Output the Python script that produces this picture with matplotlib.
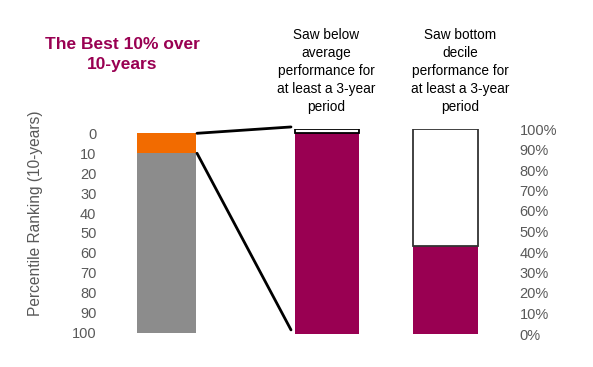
import matplotlib
matplotlib.use("Agg")
import matplotlib.pyplot as plt
from matplotlib.patches import ConnectionPatch

plt.rcParams['font.family'] = ['Liberation Sans', 'DejaVu Sans']

# ---- data ----
rank_bands = [10, 90]            # top 10% (orange), rest (grey) in percentile ranking
rank_colors = ['#F26B00', '#8C8C8C']
below_avg = [98, 2]              # saw below-average 3-yr period: yes / no (%)
bottom_decile = [43, 57]         # saw bottom-decile 3-yr period: yes / no (%)
left_ticks = [0, 10, 20, 30, 40, 50, 60, 70, 80, 90, 100]
right_ticks = [0, 10, 20, 30, 40, 50, 60, 70, 80, 90, 100]
title = "The Best 10% over\n10-years"
header1 = "Saw below\naverage\nperformance for\nat least a 3-year\nperiod"
header2 = "Saw bottom\ndecile\nperformance for\nat least a 3-year\nperiod"
ylabel = "Percentile Ranking (10-years)"

MAROON = '#990052'
GREY_TXT = '#595959'

W, H = 593, 367
fig = plt.figure(figsize=(W / 100, H / 100), dpi=100)

# layout (pixels)
xl, xr = 102, 514
def box(top, bottom):
    return [xl / W, (H - bottom) / H, (xr - xl) / W, (bottom - top) / H]

ax_l = fig.add_axes(box(133.3, 332.7))
ax_r = fig.add_axes(box(129, 334))
for a in (ax_l, ax_r):
    a.set_xlim(xl, xr)
    a.patch.set_visible(False)
    for s in a.spines.values():
        s.set_visible(False)
    a.set_xticks([])
    a.tick_params(axis='y', length=0, labelsize=10.5, labelcolor=GREY_TXT)

# left: percentile ranking bar (inverted axis)
ax_l.set_ylim(100, 0)
ax_l.set_yticks(left_ticks)
ax_l.set_yticklabels([str(t) for t in left_ticks])
ax_l.tick_params(axis='y', pad=4)
x1, w1 = 166.5, 59
bottom = 0
for v, c in zip(rank_bands, rank_colors):
    ax_l.bar(x1, v, bottom=bottom, width=w1, color=c, linewidth=0)
    bottom += v

# right: percentage bars
ax_r.set_ylim(0, 100)
ax_r.yaxis.tick_right()
ax_r.set_yticks(right_ticks)
ax_r.set_yticklabels([f"{t}%" for t in right_ticks])
ax_r.tick_params(axis='y', pad=4)

x2, w2 = 327, 64
x3, w3 = 445.5, 65
ax_r.bar(x2, below_avg[0], width=w2, color=MAROON, linewidth=0)
ax_r.bar(x2, below_avg[1], bottom=below_avg[0], width=w2, color='white',
         edgecolor='black', linewidth=1.3)
ax_r.bar(x3, bottom_decile[0], width=w3, color=MAROON, linewidth=0)
ax_r.bar(x3, bottom_decile[1], bottom=bottom_decile[0], width=w3, color='white',
         edgecolor='#333333', linewidth=1.3)

# connector lines
top_total = sum(below_avg)
for ya, yb in [(0, top_total + 1), (rank_bands[0], 2)]:
    con = ConnectionPatch(xyA=(x1 + w1 / 2 + 1, ya), coordsA=ax_l.transData,
                          xyB=(x2 - w2 / 2 - 4, yb), coordsB=ax_r.transData,
                          color='black', linewidth=2)
    fig.add_artist(con)

# texts
fig.text(122 / W, 1 - 54.5 / H, title, ha='center', va='center',
         fontsize=12.5, fontweight='bold', color=MAROON, linespacing=1.35)
fig.text(326 / W, 1 - 71 / H, header1, ha='center', va='center',
         fontsize=9.8, color='black', linespacing=1.38)
fig.text(460 / W, 1 - 71 / H, header2, ha='center', va='center',
         fontsize=9.8, color='black', linespacing=1.38)
fig.text(36 / W, 1 - 213 / H, ylabel, ha='center', va='center', rotation=90,
         fontsize=11.2, color=GREY_TXT)

fig.savefig("out.png", dpi=100)
